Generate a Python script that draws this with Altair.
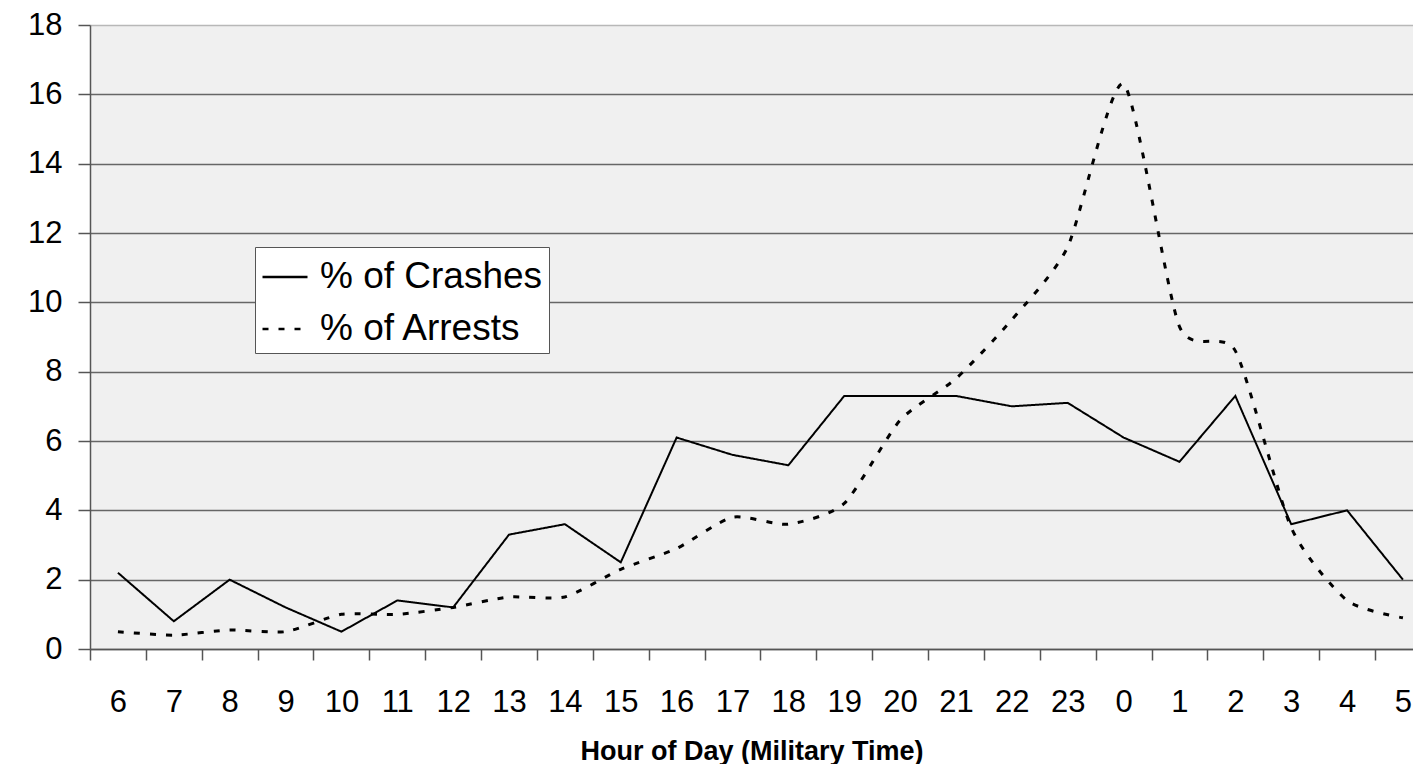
import altair as alt
import pandas as pd

hours = ["6", "7", "8", "9", "10", "11", "12", "13", "14", "15", "16", "17",
         "18", "19", "20", "21", "22", "23", "0", "1", "2", "3", "4", "5"]
crashes = [2.2, 0.8, 2.0, 1.2, 0.5, 1.4, 1.2, 3.3, 3.6, 2.5, 6.1, 5.6,
           5.3, 7.3, 7.3, 7.3, 7.0, 7.1, 6.1, 5.4, 7.3, 3.6, 4.0, 2.0]
arrests = [0.5, 0.4, 0.55, 0.5, 1.0, 1.0, 1.2, 1.5, 1.5, 2.3, 2.9, 3.8,
           3.6, 4.2, 6.6, 7.8, 9.5, 11.6, 16.3, 9.3, 8.6, 3.5, 1.4, 0.9]
series_names = ["% of Crashes", "% of Arrests"]

rows = []
for i, h in enumerate(hours):
    rows.append({"idx": i, "hour": h, "series": series_names[0], "value": crashes[i]})
    rows.append({"idx": i, "hour": h, "series": series_names[1], "value": arrests[i]})
df = pd.DataFrame(rows)

label_array = "[" + ",".join("'%s'" % h for h in hours) + "]"
tick_vals = [i - 0.5 for i in range(len(hours))]

x_enc = alt.X(
    "idx:Q",
    scale=alt.Scale(domain=[-0.5, 23.18], nice=False, zero=False),
    axis=alt.Axis(
        values=tick_vals,
        labelExpr=label_array + "[round(datum.value + 0.5)]",
        labelOffset=27.9,
        labelFlush=False,
        labelOverlap=False,
        labelBound=False,
        tickSize=11,
        tickColor="#555555",
        tickWidth=1.5,
        domainColor="#555555",
        domainWidth=1.5,
        labelPadding=27,
        labelFontSize=31,
        labelFont="Liberation Sans",
        labelColor="#000000",
        grid=False,
        title="Hour of Day (Military Time)",
        titleFont="Liberation Sans",
        titleFontSize=27,
        titleFontWeight="bold",
        titleColor="#000000",
        titlePadding=21,
    ),
)

y_enc = alt.Y(
    "value:Q",
    scale=alt.Scale(domain=[0, 18], nice=False),
    axis=alt.Axis(
        values=list(range(0, 19, 2)),
        tickSize=12,
        tickColor="#555555",
        tickWidth=1.5,
        domainColor="#555555",
        domainWidth=1.5,
        labelPadding=16,
        labelFontSize=31,
        labelFont="Liberation Sans",
        labelColor="#000000",
        grid=True,
        gridColor=alt.condition("datum.value == 18", alt.value("#b8b8b8"), alt.value("#666666")),
        gridWidth=1.5,
        title=None,
    ),
)

dash_enc = alt.StrokeDash(
    "series:N",
    scale=alt.Scale(domain=series_names, range=[[1, 0], [6, 10]]),
    legend=alt.Legend(
        title=None,
        orient="none",
        legendX=165,
        legendY=222,
        fillColor="#ffffff",
        strokeColor="#555555",
        padding=6,
        rowPadding=10,
        symbolType="stroke",
        symbolSize=2025,
        symbolStrokeWidth=2.5,
        symbolStrokeColor="#000000",
        labelFont="Liberation Sans",
        labelFontSize=37,
        labelColor="#000000",
        labelOffset=11,
        labelLimit=400,
    ),
)

base = alt.Chart(df).encode(x=x_enc, y=y_enc, strokeDash=dash_enc, order="idx:Q")

crash_line = base.transform_filter(
    alt.datum.series == series_names[0]
).mark_line(color="#000000", strokeWidth=2)

arrest_line = base.transform_filter(
    alt.datum.series == series_names[1]
).mark_line(color="#000000", strokeWidth=3, interpolate="cardinal", tension=0.35)

chart = alt.layer(crash_line, arrest_line).properties(
    width=1323,
    height=624,
    autosize=alt.AutoSizeParams(type="none"),
    padding={"left": 82, "top": 17, "right": 0, "bottom": 115},
    background="#ffffff",
).configure_view(
    fill="#f0f0f0",
    stroke="transparent",
)

chart.save("out.html", embed_options={"renderer": "svg", "actions": False})
